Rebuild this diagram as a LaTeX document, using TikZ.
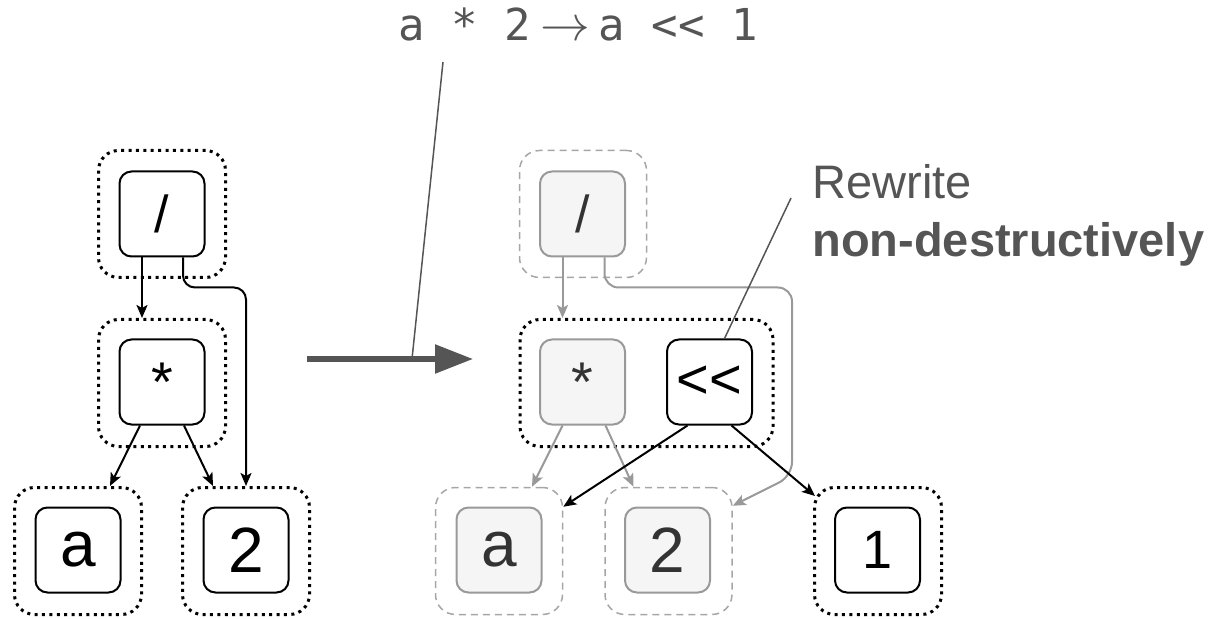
\documentclass[tikz,border=0pt]{standalone}
\usepackage{fontspec}
\usepackage{tikz}
\usetikzlibrary{arrows.meta, positioning, calc}
\newfontfamily\nodefont{Liberation Sans}
\newfontfamily\codefont{DejaVu Sans Mono}
\newcommand{\labelsize}[1]{\fontsize{#1}{#1}\selectfont}
\definecolor{notegray}{RGB}{85,85,85}
\definecolor{oldline}{RGB}{153,153,153}
\definecolor{oldfill}{RGB}{245,245,245}
\definecolor{oldtext}{RGB}{51,51,51}
\definecolor{olddash}{RGB}{166,166,166}

\tikzset{
  opbox/.style={draw=black, fill=white, line width=1pt, rounded corners=6pt,
    minimum width=42.5pt, minimum height=42.5pt, inner sep=0pt,
    font=\nodefont\labelsize{#1}},
  opbox/.default=32,
  oldbox/.style={opbox=#1, draw=oldline, fill=oldfill, text=oldtext},
  oldbox/.default=32,
  newgroup/.style={draw=black, line width=1.5pt, dash pattern=on 1.5pt off 2.2pt,
    rounded corners=10pt, minimum width=63.5pt, minimum height=63.5pt},
  oldgroup/.style={draw=olddash, line width=0.75pt, dash pattern=on 3.5pt off 2.5pt,
    rounded corners=10pt, minimum width=63.5pt, minimum height=63.5pt},
  link/.style={draw=black, line width=1pt, -{Stealth[length=6.5pt,width=5.5pt,inset=1.5pt]}},
  oldlink/.style={link, draw=oldline},
  callout/.style={draw=notegray, line width=0.75pt},
}

\begin{document}
\begin{tikzpicture}[x=0.5pt, y=-0.5pt]
  \useasboundingbox (0,0) rectangle (1213,619);

  % Before the rewrite
  \node[newgroup] (lDivG) at (162,214) {};
  \node[newgroup] (lMulG) at (162,383) {};
  \node[newgroup] (lAG) at (78,551) {};
  \node[newgroup] (lTwoG) at (246,551) {};
  \node[opbox=26] (lDiv) at (162,214) {/};
  \node[opbox=28] (lMul) at (162,382) {*};
  \node[opbox] (lA) at (78,550) {a};
  \node[opbox] (lTwo) at (246,550) {2};

  \coordinate (lDivL) at ($(lDiv.south)+(-20,0)$);
  \coordinate (lDivR) at ($(lDiv.south)+(21,0)$);
  \draw[link] (lDivL) -- (lDivL |- lMulG.north);
  \draw[link, rounded corners=6pt] (lDivR) -- ++(0,30) -| (lTwoG.north);
  \draw[link] ($(lMul.south)+(-22,0)$) -- ($(lAG.north)+(32,0)$);
  \draw[link] ($(lMul.south)+(22,0)$) -- ($(lTwoG.north)+(-33,0)$);

  % The rule
  \node[anchor=base, inner sep=0pt, text=notegray, font=\labelsize{22}] (rule) at (578,41)
    {{\codefont a * 2}\hspace{5pt}\scalebox{1.2}{$\rightarrow$}\hspace{4pt}{\codefont a <\kern0pt< 1}};
  \coordinate (ruleFoot) at (443,62);
  \coordinate (bigFrom) at (307,359);
  \coordinate (bigTo) at (473,359);
  \coordinate (ruleHit) at (412,359);
  \draw[callout] (ruleFoot) -- (ruleHit);
  \draw[draw=notegray, line width=2.75pt, -{Triangle[length=19pt,width=14pt]}] (bigFrom) -- (bigTo);

  % After the rewrite
  \node[oldgroup] (rDivG) at (583,214) {};
  \node[newgroup, minimum width=126.5pt] (rMulG) at (646.5,383) {};
  \node[oldgroup] (rAG) at (499,551) {};
  \node[oldgroup] (rTwoG) at (668.5,551) {};
  \node[newgroup] (rOneG) at (878,551) {};
  \node[oldbox=26] (rDiv) at (582.5,214) {/};
  \node[oldbox=28] (rMul) at (582.5,382) {*};
  \node[opbox=28] (rShl) at (709.5,382) {<\kern0pt<};
  \node[oldbox] (rA) at (499,550) {a};
  \node[oldbox] (rTwo) at (667.5,550) {2};
  \node[opbox=27] (rOne) at (877.5,550) {1};

  \coordinate (rDivL) at ($(rDiv.south)+(-20,0)$);
  \coordinate (rDivR) at ($(rDiv.south)+(22,0)$);
  \coordinate (rBend) at (792,476);
  \draw[oldlink] (rDivL) -- (rDivL |- rMulG.north);
  \draw[oldlink, rounded corners=7pt] (rDivR) -- ++(0,30) -| (rBend) -- ($(rTwoG.north east)+(0,19)$);
  \draw[oldlink] ($(rMul.south)+(-20,0)$) -- ($(rAG.north)+(33,0)$);
  \draw[oldlink] ($(rMul.south)+(23,0)$) -- ($(rTwoG.north)+(-35,0)$);
  \draw[link] ($(rShl.south)+(-22,0)$) -- ($(rAG.north east)+(0,20)$);
  \draw[link] ($(rShl.south)+(22,0)$) -- ($(rOneG.north west)+(2,10)$);

  % Note
  \node[anchor=base west, inner sep=0pt, text=notegray, font=\nodefont\labelsize{23.5}] (noteTop) at (812,199) {Rewrite};
  \node[anchor=base west, inner sep=0pt, text=notegray, font=\nodefont\bfseries\labelsize{23.5}] (noteBot) at (812,257) {non-destructively};
  \coordinate (noteFoot) at (791,198);
  \draw[callout] (noteFoot) -- ($(rShl.north)+(15,0)$);
\end{tikzpicture}
\end{document}
